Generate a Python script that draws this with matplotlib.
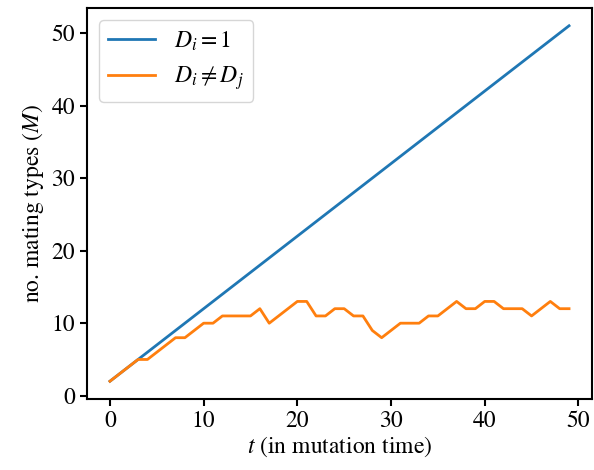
import numpy as np
import matplotlib
matplotlib.use("Agg")
import matplotlib.pyplot as plt

plt.rcParams['font.family'] = ['STIXGeneral', 'Liberation Serif', 'DejaVu Serif']
plt.rcParams['mathtext.fontset'] = 'stix'
plt.rcParams['font.size'] = 17

# mutation time steps
t = list(range(50))
# D_i = 1: every mutation gives a new mating type
m_equal = [2, 3, 4, 5, 6, 7, 8, 9, 10, 11, 12, 13, 14, 15, 16, 17, 18, 19, 20, 21,
           22, 23, 24, 25, 26, 27, 28, 29, 30, 31, 32, 33, 34, 35, 36, 37, 38, 39, 40, 41,
           42, 43, 44, 45, 46, 47, 48, 49, 50, 51]
# D_i != D_j
m_diff = [2, 3, 4, 5, 5, 6, 7, 8, 8, 9, 10, 10, 11, 11, 11, 11, 12, 10, 11, 12,
          13, 13, 11, 11, 12, 12, 11, 11, 9, 8, 9, 10, 10, 10, 11, 11, 12, 13, 12, 12,
          13, 13, 12, 12, 12, 11, 12, 13, 12, 12]

fig = plt.figure(figsize=(5.94, 4.70), dpi=100)
ax = fig.add_axes([87/594, 1 - 399/470, (592 - 87)/594, (399 - 8)/470])

ax.plot(t, m_equal, color='#1f77b4', lw=2, label=r'$D_i = 1$')
ax.plot(t, m_diff, color='#ff7f0e', lw=2, label=r'$D_i \neq D_j$')

ax.set_xticks([0, 10, 20, 30, 40, 50])
ax.set_yticks([0, 10, 20, 30, 40, 50])
ax.tick_params(width=1.5, length=5)
for s in ax.spines.values():
    s.set_linewidth(1.5)
ax.set_xlabel(r'$t$ (in mutation time)', labelpad=2)
ax.set_ylabel(r'no. mating types ($M$)')
ax.legend(loc='upper left', fontsize=17)

fig.savefig('out.png', dpi=100)
